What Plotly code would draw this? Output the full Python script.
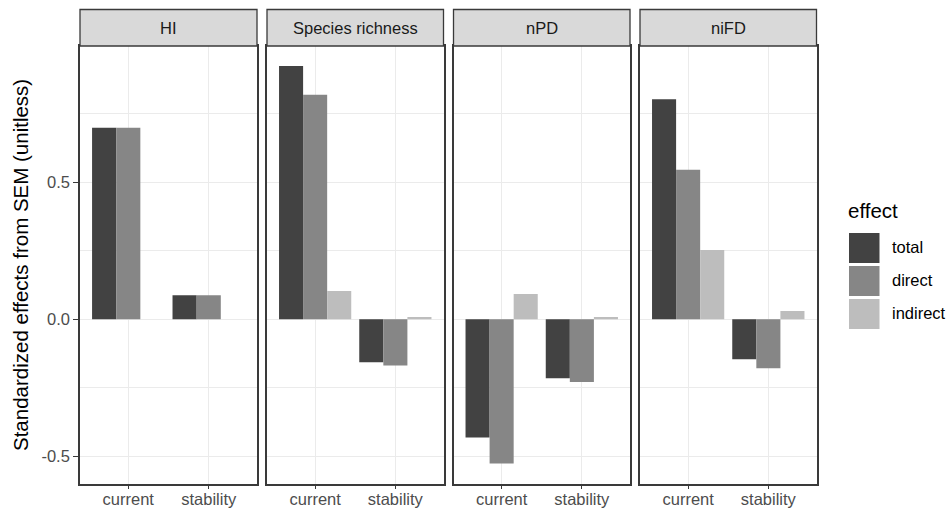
import plotly.graph_objects as go
from plotly.subplots import make_subplots

# ---- data ----
panels = ["HI", "Species richness", "nPD", "niFD"]
timescales = ["current", "stability"]
effects = ["total", "direct", "indirect"]

hi_total = [0.699, 0.088]
hi_direct = [0.699, 0.088]
hi_indirect = [None, None]

sr_total = [0.925, -0.157]
sr_direct = [0.820, -0.169]
sr_indirect = [0.103, 0.008]

npd_total = [-0.432, -0.215]
npd_direct = [-0.527, -0.229]
npd_indirect = [0.092, 0.008]

nifd_total = [0.803, -0.146]
nifd_direct = [0.546, -0.179]
nifd_indirect = [0.253, 0.030]

y_tickvals = [-0.5, 0.0, 0.5]
y_ticktext = ["-0.5", "0.0", "0.5"]
y_minor = [-0.25, 0.25, 0.75]

panel_values = [
    [hi_total, hi_direct, hi_indirect],
    [sr_total, sr_direct, sr_indirect],
    [npd_total, npd_direct, npd_indirect],
    [nifd_total, nifd_direct, nifd_indirect],
]

# ---- styling ----
W, H = 946, 511
colors = ["#424242", "#868686", "#BDBDBD"]
FONT = "Liberation Sans, Arial, Helvetica, sans-serif"
border = "#3a3a3a"
grid = "#EBEBEB"


def px(x):
    return x / W


def py(y):
    return 1 - y / H


panel_px = [(80, 257), (267, 443.5), (453.5, 630), (640, 816.5)]
top_px, bot_px = 46, 483.5
strip_top_px = 9.5

fig = make_subplots(rows=1, cols=4, shared_yaxes=True)

for i, vals in enumerate(panel_values):
    for j, eff in enumerate(effects):
        fig.add_trace(
            go.Bar(
                x=timescales,
                y=vals[j],
                name=eff,
                marker=dict(color=colors[j], line=dict(width=0)),
                showlegend=False,
                offsetgroup=str(j),
            ),
            row=1,
            col=i + 1,
        )

fig.update_layout(
    width=W,
    height=H,
    margin=dict(l=0, r=0, t=0, b=0),
    paper_bgcolor="white",
    plot_bgcolor="white",
    barmode="group",
    bargap=0.1,
    bargroupgap=0,
    font=dict(family=FONT, size=16.5, color="#4D4D4D"),
)

shapes = []
annotations = []
for i, (x0, x1) in enumerate(panel_px):
    xa = "xaxis" if i == 0 else f"xaxis{i + 1}"
    ya = "yaxis" if i == 0 else f"yaxis{i + 1}"
    fig.layout[xa].update(
        domain=[px(x0), px(x1)],
        type="category",
        range=[-0.6, 1.6],
        showgrid=True,
        gridcolor=grid,
        gridwidth=1,
        showline=True,
        mirror=True,
        linecolor=border,
        linewidth=1.6,
        ticks="outside",
        ticklen=4,
        tickwidth=1.2,
        tickcolor=border,
        ticklabelstandoff=-4,
        tickfont=dict(size=16.5, color="#4D4D4D", family=FONT),
        zeroline=False,
    )
    fig.layout[ya].update(
        domain=[py(bot_px), py(top_px)],
        range=[-0.5996, 0.9976],
        tickvals=y_tickvals,
        ticktext=y_ticktext,
        showgrid=True,
        gridcolor=grid,
        gridwidth=1,
        minor=dict(tickvals=y_minor, showgrid=True, gridcolor=grid, gridwidth=0.6, ticks=""),
        showline=True,
        mirror=True,
        linecolor=border,
        linewidth=1.6,
        zeroline=False,
        ticks="outside" if i == 0 else "",
        ticklen=5,
        tickwidth=1.2,
        tickcolor=border,
        showticklabels=(i == 0),
        tickfont=dict(size=16.5, color="#4D4D4D", family=FONT),
    )
    # strip
    shapes.append(
        dict(
            type="rect",
            xref="paper",
            yref="paper",
            x0=px(x0),
            x1=px(x1),
            y0=py(top_px),
            y1=py(strip_top_px),
            fillcolor="#D9D9D9",
            line=dict(color=border, width=1.3),
            layer="above",
        )
    )
    annotations.append(
        dict(
            text=panels[i],
            xref="paper",
            yref="paper",
            x=px((x0 + x1) / 2),
            y=py((top_px + strip_top_px) / 2),
            showarrow=False,
            xanchor="center",
            yanchor="middle",
            font=dict(size=16.5, color="#1A1A1A", family=FONT),
        )
    )

# y-axis title
annotations.append(
    dict(
        text="Standardized effects from SEM (unitless)",
        xref="paper",
        yref="paper",
        x=px(20),
        y=py(265),
        textangle=-90,
        showarrow=False,
        xanchor="center",
        yanchor="middle",
        font=dict(size=20.5, color="black", family=FONT),
    )
)

# legend (manual, keys match trace colours)
annotations.append(
    dict(
        text="effect",
        xref="paper",
        yref="paper",
        x=px(846),
        y=py(210),
        showarrow=False,
        xanchor="left",
        yanchor="middle",
        font=dict(size=20.5, color="black", family=FONT),
    )
)
key_top = 233
pitch = 33
for j, eff in enumerate(effects):
    t = key_top + j * pitch
    shapes.append(
        dict(
            type="rect",
            xref="paper",
            yref="paper",
            x0=px(849),
            x1=px(879.5),
            y0=py(t + 30),
            y1=py(t),
            fillcolor=colors[j],
            line=dict(width=0),
        )
    )
    annotations.append(
        dict(
            text=eff,
            xref="paper",
            yref="paper",
            x=px(890),
            y=py(t + 14),
            showarrow=False,
            xanchor="left",
            yanchor="middle",
            font=dict(size=16.5, color="black", family=FONT),
        )
    )

fig.update_layout(shapes=shapes, annotations=annotations)

fig.write_html(
    "out.html",
    config={"displayModeBar": False},
    post_script="document.body.style.margin='0';document.body.style.overflow='hidden';",
)
